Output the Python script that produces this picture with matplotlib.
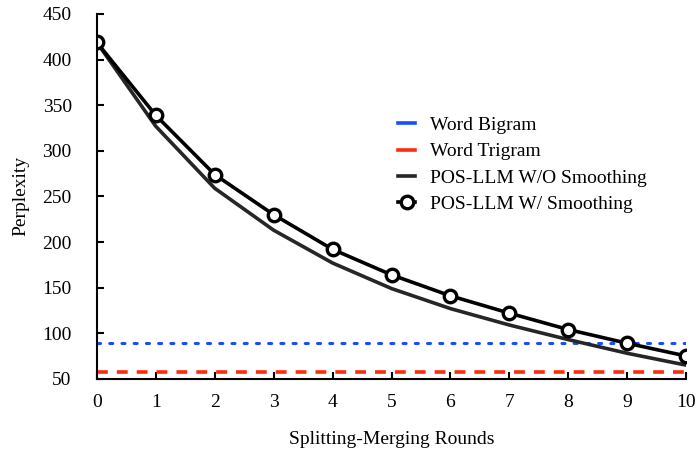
import matplotlib
matplotlib.use("Agg")
import matplotlib.pyplot as plt
from matplotlib.lines import Line2D

rounds = list(range(11))
with_smoothing = [419, 339, 274, 230, 192, 164, 141, 122, 104, 89, 75]
without_smoothing = [419, 327, 259, 213, 177, 149, 127, 109, 93, 78, 65]
bigram = 89
trigram = 57.5

plt.rcParams['font.family'] = ['Liberation Serif', 'DejaVu Serif']

fig = plt.figure(figsize=(6.96, 4.51), dpi=100)
ax = fig.add_axes([0.139, 0.160, 0.847, 0.809])

ax.plot(rounds, [bigram] * len(rounds), color='#1a4cff', lw=2.2, ls=(0, (1, 3)), dash_capstyle='round')
ax.plot(rounds, [trigram] * len(rounds), color='#ff2a0a', lw=2.6, ls=(0, (3, 2.5)))
ax.plot(rounds, without_smoothing, color='#262626', lw=2.6)
ax.plot(rounds, with_smoothing, color='black', lw=2.6, marker='o', ms=9,
        mfc='white', mec='black', mew=2.4)

ax.set_xlim(0, 10)
ax.set_ylim(50, 450)
ax.set_xticks(rounds)
ax.set_yticks(range(50, 451, 50))
for s in ['top', 'right']:
    ax.spines[s].set_visible(False)
for s in ['left', 'bottom']:
    ax.spines[s].set_linewidth(1.5)
ax.tick_params(direction='in', length=5, width=1.5, labelsize=14)
ax.tick_params(axis='y', pad=18)
ax.tick_params(axis='x', pad=11)
ax.set_xlabel('Splitting-Merging Rounds', fontsize=14, labelpad=14)
ax.set_ylabel('Perplexity', fontsize=14, labelpad=9)

handles = [
    Line2D([], [], color='#1a4cff', lw=2.6),
    Line2D([], [], color='#ff2a0a', lw=2.6),
    Line2D([], [], color='#262626', lw=2.6),
    Line2D([], [], color='black', lw=2.6, marker='o', ms=9, mfc='white', mew=2.4),
]
labels = ['Word Bigram', 'Word Trigram', 'POS-LLM W/O Smoothing', 'POS-LLM W/ Smoothing']
ax.legend(handles, labels, loc='upper left', bbox_to_anchor=(0.482, 0.767), frameon=False,
          fontsize=14, handlelength=0.85, handletextpad=0.8, labelspacing=0.45)

fig.savefig('out.png', dpi=100)
